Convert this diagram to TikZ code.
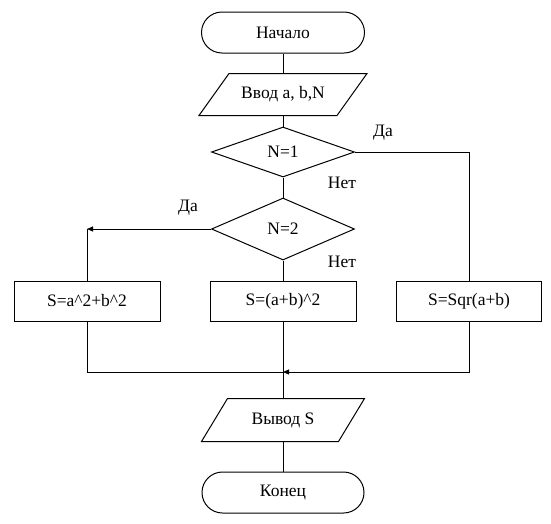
\documentclass[tikz,border=0pt]{standalone}
\usepackage{fontspec}
\setmainfont{Liberation Serif}
\usetikzlibrary{shapes.geometric,arrows.meta}
\begin{document}
\begin{tikzpicture}[x=1pt,y=-1pt,line width=1pt,
  every node/.style={font=\fontsize{17.5}{20}\selectfont, inner sep=0pt},
  term/.style={rectangle, rounded corners=20.5pt, draw, minimum width=163pt, minimum height=41pt},
  io/.style={rectangle, minimum width=167pt, minimum height=41pt},
  dec/.style={diamond, draw, minimum width=143pt},
  proc/.style={rectangle, draw, minimum width=146pt, minimum height=40pt},
  arr/.style={-{Triangle[length=6pt,width=5pt]}}]
\useasboundingbox (0,0) rectangle (551,523);

\node[term] (start) at (283,32.5) {Начало};
\node[io] (in) at (283,94.5) {Ввод a, b,N};
\draw (in.south west) -- ([xshift=-30pt]in.south east) -- (in.north east) -- ([xshift=30pt]in.north west) -- cycle;
\node[dec, minimum height=50pt] (d1) at (283,152) {N=1};
\node[dec, minimum height=62pt] (d2) at (283,229) {N=2};
\node[proc] (b1) at (87,301) {S=a\^{}2+b\^{}2};
\node[proc] (b2) at (283,301) {S=(a+b)\^{}2};
\node[proc, minimum width=145pt] (b3) at (469,301) {S=Sqr(a+b)};
\node[io, minimum height=42pt, minimum width=162pt] (out) at (283,420) {Вывод S};
\draw (out.south west) -- ([xshift=-26pt]out.south east) -- (out.north east) -- ([xshift=26pt]out.north west) -- cycle;
\node[term, minimum width=162pt] (end) at (283,492.5) {Конец};

\node (da1) at (383,133) {Да};
\node (net1) at (342,183) {Нет};
\node (da2) at (188,208) {Да};
\node (net2) at (342,262) {Нет};

\coordinate (m) at (283,372);
\coordinate (c2) at (b1.north |- d2.west);

\draw (start.south) -- (in.north);
\draw (in.south) -- (d1.north);
\draw (d1.south) -- (d2.north);
\draw (d2.south) -- (b2.north);
\draw (d1.east) -| (b3.north);
\draw[arr] (d2.west) -- (c2);
\draw (c2) -- (b1.north);
\draw (b2.south) -- (out.north);
\draw (b1.south) |- (m);
\draw[arr] (b3.south) |- (m);
\draw (out.south) -- (end.north);
\end{tikzpicture}
\end{document}
